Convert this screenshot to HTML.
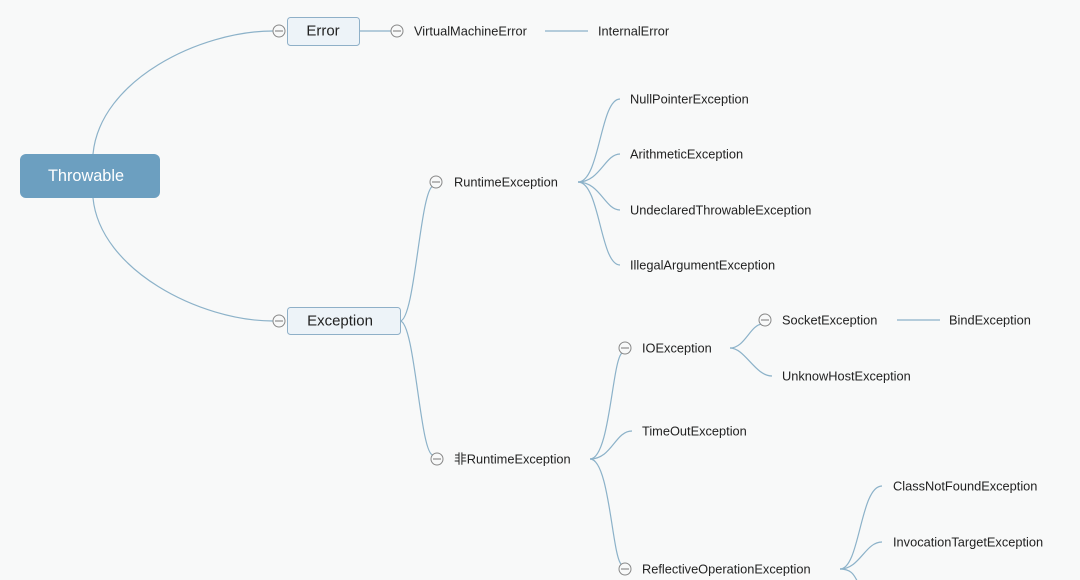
<!DOCTYPE html>
<html><head><meta charset="utf-8"><style>
html,body{margin:0;padding:0;background:#f8f9f9;}
svg{display:block;}
text{font-family:"Liberation Sans","Noto Sans CJK SC",sans-serif;font-size:12.8px;fill:#222;dominant-baseline:central;}
</style></head><body>
<svg width="1080" height="580" viewBox="0 0 1080 580" xmlns="http://www.w3.org/2000/svg">
<rect width="1080" height="580" fill="#f8f9f9"/>
<g fill="none" stroke="#8cb2c9" stroke-width="1.2">
<path d="M93,154 C100,80 200,31 273,31"/>
<path d="M93,198 C100,270 200,321 273,321"/>
<path d="M360,31 L391,31"/>
<path d="M545,31 L588,31"/>
<path d="M400,321 C415,321 420,190 433,186"/>
<path d="M400,321 C415,321 420,455 433,455"/>
<path d="M578,182 C600,182 600,99 620,99"/>
<path d="M578,182 C600,182 605,154 620,154"/>
<path d="M578,182 C600,182 605,210 620,210"/>
<path d="M578,182 C600,182 600,265 620,265"/>
<path d="M590,459 C610,459 612,360 622,353"/>
<path d="M590,459 C612,459 615,431 632,431"/>
<path d="M590,459 C610,459 612,560 622,565"/>
<path d="M730,348 C745,348 750,325 762,324"/>
<path d="M730,348 C745,348 755,376 772,376"/>
<path d="M897,320 L940,320"/>
<path d="M840,569 C860,569 860,486 882,486"/>
<path d="M840,569 C860,569 865,542 882,542"/>
<path d="M840,569 C855,569 855,580 860,585"/>
</g>
<rect x="20" y="154" width="140" height="44" rx="6" fill="#6c9fc0"/>
<text x="86" y="176" text-anchor="middle" style="fill:#fff;font-size:16.3px">Throwable</text>
<rect x="287.5" y="17.5" width="72" height="28" rx="3" fill="#edf3f8" stroke="#8fb0c8"/>
<text x="323" y="31" text-anchor="middle" style="font-size:15px">Error</text>
<rect x="287.5" y="307.5" width="113" height="27" rx="3" fill="#edf3f8" stroke="#8fb0c8"/>
<text x="340" y="321" text-anchor="middle" style="font-size:15px">Exception</text>
<g fill="#f8f9f9" stroke="#888" stroke-width="1">
<circle cx="279" cy="31" r="6"/><circle cx="279" cy="321" r="6"/>
<circle cx="397" cy="31" r="6"/><circle cx="436" cy="182" r="6"/>
<circle cx="437" cy="459" r="6"/><circle cx="625" cy="348" r="6"/>
<circle cx="625" cy="569" r="6"/><circle cx="765" cy="320" r="6"/>
</g>
<g stroke="#777" stroke-width="1">
<path d="M275,31h8M275,321h8M393,31h8M432,182h8M433,459h8M621,348h8M621,569h8M761,320h8"/>
</g>
<text x="414" y="31">VirtualMachineError</text>
<text x="598" y="31">InternalError</text>
<text x="454" y="182">RuntimeException</text>
<text x="454" y="459">非RuntimeException</text>
<text x="630" y="99">NullPointerException</text>
<text x="630" y="154">ArithmeticException</text>
<text x="630" y="210">UndeclaredThrowableException</text>
<text x="630" y="265">IllegalArgumentException</text>
<text x="642" y="348">IOException</text>
<text x="642" y="431">TimeOutException</text>
<text x="642" y="569">ReflectiveOperationException</text>
<text x="782" y="320">SocketException</text>
<text x="782" y="376">UnknowHostException</text>
<text x="949" y="320">BindException</text>
<text x="893" y="486">ClassNotFoundException</text>
<text x="893" y="542">InvocationTargetException</text>
</svg>
</body></html>
